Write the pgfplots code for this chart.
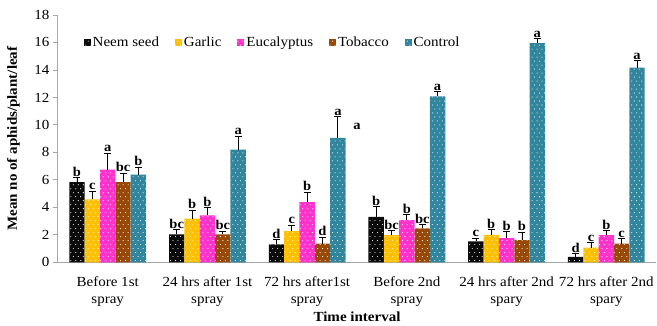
\documentclass[border=0pt]{standalone}
\usepackage{pgfplots}
\pgfplotsset{compat=1.18}
\usepackage{pgfplotstable}
\usepackage{fontspec}
\setmainfont{Liberation Serif}[FakeStretch=1.08]
\usetikzlibrary{patterns}
\pgfdeclarepatternformonly{sparsedots}{\pgfqpoint{-1bp}{-1bp}}{\pgfqpoint{6bp}{9bp}}{\pgfqpoint{5bp}{8bp}}{%
  \pgfpathcircle{\pgfqpoint{1bp}{1bp}}{0.55bp}\pgfusepath{fill}%
  \pgfpathcircle{\pgfqpoint{3.5bp}{5bp}}{0.55bp}\pgfusepath{fill}}
\definecolor{cneem}{HTML}{0A0A0A}
\definecolor{cgarlic}{HTML}{FFC000}
\definecolor{ceuc}{HTML}{FF33CC}
\definecolor{ctob}{HTML}{984807}
\definecolor{cctrl}{HTML}{31859C}
\definecolor{axgray}{HTML}{A6A6A6}

\pgfplotstableread{
x y e top lab
0 5.83 0.32 6.15 b
1 2.03 0.36 2.39 bc
2 1.30 0.37 1.67 d
3 3.31 0.73 4.04 b
4 1.52 0.24 1.76 c
5 0.39 0.24 0.63 d
}\neem
\pgfplotstableread{
x y e top lab
0 4.57 0.60 5.17 c
1 3.17 0.63 3.80 b
2 2.27 0.43 2.70 c
3 1.98 0.34 2.32 bc
4 2.00 0.39 2.39 b
5 1.07 0.36 1.43 c
}\garlic
\pgfplotstableread{
x y e top lab
0 6.75 1.20 7.95 a
1 3.41 0.56 3.97 b
2 4.38 0.72 5.10 b
3 3.07 0.41 3.48 b
4 1.76 0.49 2.25 b
5 1.98 0.34 2.32 b
}\euc
\pgfplotstableread{
x y e top lab
0 5.83 0.67 6.50 bc
1 2.03 0.24 2.27 bc
2 1.36 0.48 1.84 d
3 2.47 0.29 2.76 bc
4 1.62 0.58 2.20 b
5 1.36 0.36 1.72 c
}\tob
\pgfplotstableread{
x y e top lab
0 6.38 0.56 6.94 b
1 8.20 0.97 9.17 a
2 9.05 1.55 10.60 a
3 12.07 0.36 12.43 a
4 15.95 0.31 16.26 a
5 14.17 0.51 14.68 a
}\ctrl

\begin{document}
\begin{tikzpicture}
\begin{axis}[
  name=ax,
  scale only axis,
  width=600bp, height=248bp,
  xmin=-0.5, xmax=5.5,
  ymin=0, ymax=18,
  ytick={0,2,...,18},
  xtick=data,
  xticklabels={{Before 1st\\spray},{24 hrs after 1st\\spray},{72 hrs after1st\\spray},{Before 2nd\\spray},{24 hrs after 2nd\\spary},{72 hrs after 2nd\\spary}},
  xticklabel style={align=center, font=\fontsize{14}{17.5}\selectfont, yshift=-6bp},
  yticklabel style={font=\fontsize{14}{16}\selectfont},
  /pgf/number format/assume math mode=true,
  axis x line*=bottom, axis y line*=left,
  axis line style={axgray, line width=0.8bp},
  x tick style={draw=none},
  y tick style={axgray, line width=0.8bp},
  tick align=outside,
  major tick length=5bp,
  ylabel={\bfseries Mean no of aphids/plant/leaf},
  ylabel style={font=\fontsize{14}{16}\selectfont, at={(axis description cs:-0.074,0.5)}, anchor=center},
  xlabel={\bfseries Time interval},
  xlabel style={font=\fontsize{14}{16}\selectfont, at={(axis description cs:0.5,-0.222)}, anchor=center},
  ybar,
  bar width=15.4bp,
  clip=false,
  error bars/y dir=plus,
  error bars/y explicit,
  error bars/error mark options={rotate=90, mark size=3.5bp, line width=0.8bp, black},
  error bars/error bar style={line width=0.8bp, black},
  legend style={at={(axis description cs:0.038,0.887)}, anchor=west, draw=none, fill=none,
    font=\fontsize{14}{16}\selectfont, legend columns=5,
    /tikz/every even column/.append style={column sep=14bp},
    /tikz/every odd column/.append style={column sep=0bp}},
  legend image code/.code={\path[#1,draw=none] (0bp,-3.5bp) rectangle (7bp,3.5bp);},
  nodes near coords style={font=\bfseries\fontsize{13.5}{14}\selectfont, inner sep=1bp, black},
]
\addplot[fill=cneem, draw=none, bar shift=-30.8bp, postaction={pattern=sparsedots, pattern color=white}]
  table[x=x, y=y, y error=e]{\neem};
\addlegendentry{Neem seed}
\addplot[fill=cgarlic, draw=none, bar shift=-15.4bp, postaction={pattern=sparsedots, pattern color=white}]
  table[x=x, y=y, y error=e]{\garlic};
\addlegendentry{Garlic}
\addplot[fill=ceuc, draw=none, bar shift=0bp, postaction={pattern=sparsedots, pattern color=white}]
  table[x=x, y=y, y error=e]{\euc};
\addlegendentry{Eucalyptus}
\addplot[fill=ctob, draw=none, bar shift=15.4bp, postaction={pattern=sparsedots, pattern color=white}]
  table[x=x, y=y, y error=e]{\tob};
\addlegendentry{Tobacco}
\addplot[fill=cctrl, draw=none, bar shift=30.8bp, postaction={pattern=sparsedots, pattern color=white}]
  table[x=x, y=y, y error=e]{\ctrl};
\addlegendentry{Control}

\addplot[draw=none, fill=none, bar shift=-30.8bp, forget plot, nodes near coords, point meta=explicit symbolic]
  table[x=x, y=top, meta=lab]{\neem};
\addplot[draw=none, fill=none, bar shift=-15.4bp, forget plot, nodes near coords, point meta=explicit symbolic]
  table[x=x, y=top, meta=lab]{\garlic};
\addplot[draw=none, fill=none, bar shift=0bp, forget plot, nodes near coords, point meta=explicit symbolic]
  table[x=x, y=top, meta=lab]{\euc};
\addplot[draw=none, fill=none, bar shift=15.4bp, forget plot, nodes near coords, point meta=explicit symbolic]
  table[x=x, y=top, meta=lab]{\tob};
\addplot[draw=none, fill=none, bar shift=30.8bp, forget plot, nodes near coords, point meta=explicit symbolic]
  table[x=x, y=top, meta=lab]{\ctrl};
\node[font=\bfseries\fontsize{13.5}{14}\selectfont] at (axis cs:2.5,9.87) {a};
\end{axis}
\path ([xshift=-58bp,yshift=-63bp]ax.south west) rectangle ([yshift=15bp]ax.north east);
\end{tikzpicture}
\end{document}
